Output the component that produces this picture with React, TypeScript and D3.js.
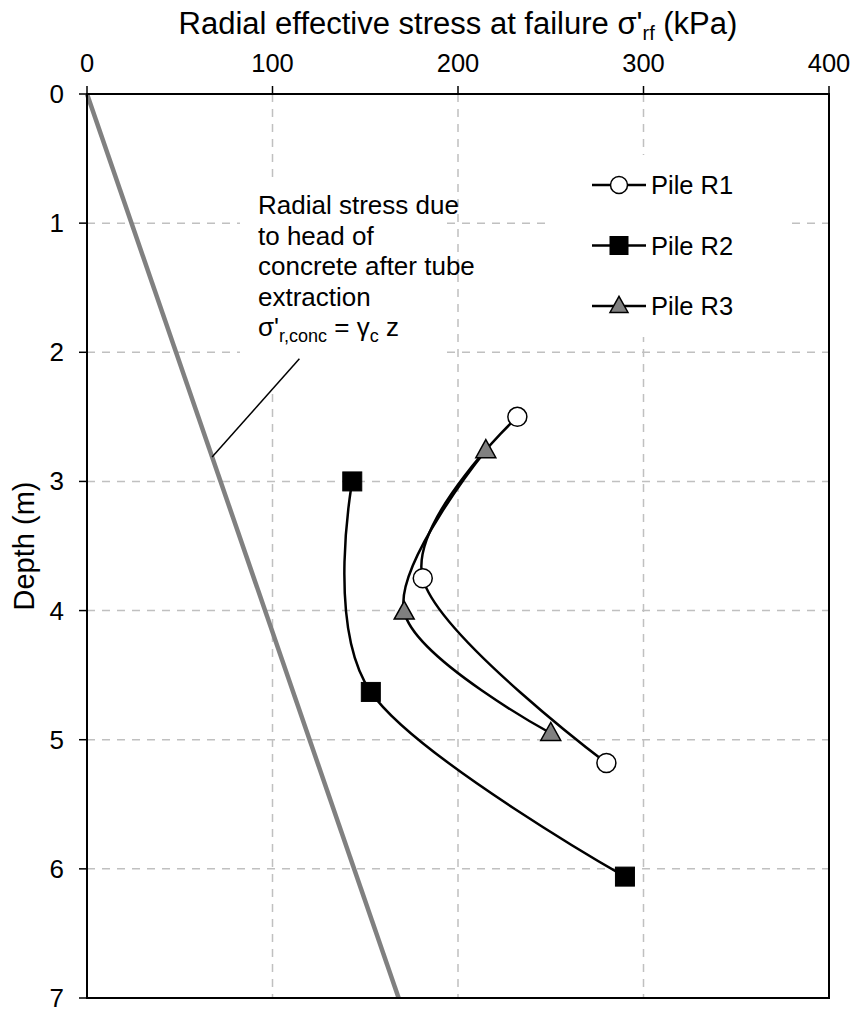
import React from "react";
import * as d3 from "d3";

// Radial effective stress at failure (kPa) versus depth (m) for three piles
const r1Stress = [232, 181, 280];
const r1Depth = [2.5, 3.75, 5.18];
const r2Stress = [143, 153, 290];
const r2Depth = [3.0, 4.63, 6.06];
const r3Stress = [215, 171, 250];
const r3Depth = [2.76, 4.01, 4.95];

// Concrete head line: sigma'_r,conc = gamma_c * z
const gammaC = 24;
const concDepth = [0, 7];

const xTicks = [0, 100, 200, 300, 400];
const yTicks = [0, 1, 2, 3, 4, 5, 6, 7];
const seriesNames = ["Pile R1", "Pile R2", "Pile R3"];

const W = 853;
const H = 1012;
const plot = { left: 87, right: 829, top: 94, bottom: 998 };
const FONT = "Liberation Sans, Arial, sans-serif";

type Pt = { s: number; d: number };
const zip = (s: number[], d: number[]): Pt[] => s.map((v, i) => ({ s: v, d: d[i] }));

function Marker({ kind, x, y, size }: { kind: number; x: number; y: number; size: number }) {
  if (kind === 0) {
    return <circle cx={x} cy={y} r={size / 2} fill="#fff" stroke="#000" strokeWidth={1.5} />;
  }
  if (kind === 1) {
    return <rect x={x - size / 2} y={y - size / 2} width={size} height={size} fill="#000" stroke="#000" strokeWidth={1} />;
  }
  const h = size * 0.9;
  const path = `M${x},${y - h * 0.6} L${x + size / 2},${y + h * 0.4} L${x - size / 2},${y + h * 0.4} Z`;
  return <path d={path} fill="#808080" stroke="#000" strokeWidth={1.5} />;
}

export default function App() {
  const x = d3.scaleLinear().domain([0, 400]).range([plot.left, plot.right]);
  const y = d3.scaleLinear().domain([0, 7]).range([plot.top, plot.bottom]);

  const series = [zip(r1Stress, r1Depth), zip(r2Stress, r2Depth), zip(r3Stress, r3Depth)];
  const line = d3
    .line<Pt>()
    .x((p) => x(p.s))
    .y((p) => y(p.d))
    .curve(d3.curveCatmullRom.alpha(0));

  const concLine = d3
    .line<number>()
    .x((z) => x(gammaC * z))
    .y((z) => y(z));

  const gridX = xTicks.filter((t) => t > 0 && t < 400);
  const gridY = yTicks.filter((t) => t > 0 && t < 7);

  // leader from the annotation to the concrete line
  const leadStart = { s: 114.5, d: 2.05 };
  const leadEndDepth = 2.81;

  const annX = 258;
  const annY0 = 214;
  const annDy = 30.6;
  const annLines = ["Radial stress due", "to head of", "concrete after tube", "extraction"];

  const legendX = 592;
  const legendY0 = 185;
  const legendDy = 60.5;

  return (
    <svg
      width={W}
      height={H}
      style={{ position: "absolute", left: 0, top: 0, background: "#fff" }}
      fontFamily={FONT}
    >
      <rect x={0} y={0} width={W} height={H} fill="#fff" />

      {/* grid */}
      {gridX.map((t) => (
        <line key={"gx" + t} x1={x(t)} x2={x(t)} y1={plot.top} y2={plot.bottom} stroke="#c0c0c0" strokeWidth={1.5} strokeDasharray="8 7" />
      ))}
      {gridY.map((t) => (
        <line key={"gy" + t} x1={plot.left} x2={plot.right} y1={y(t)} y2={y(t)} stroke="#c0c0c0" strokeWidth={1.5} strokeDasharray="8 7" />
      ))}

      {/* annotation background */}
      <rect x={240} y={178} width={205} height={210} fill="#fff" />
      {/* legend background */}
      <rect x={545} y={155} width={242} height={182} fill="#fff" />

      {/* concrete head line */}
      <path d={concLine(concDepth) || ""} fill="none" stroke="#808080" strokeWidth={4.5} />

      {/* leader */}
      <line
        x1={x(leadStart.s)}
        y1={y(leadStart.d)}
        x2={x(gammaC * leadEndDepth)}
        y2={y(leadEndDepth)}
        stroke="#000"
        strokeWidth={1.5}
      />

      {/* annotation text */}
      <g fontSize={26} fill="#000">
        {annLines.map((t, i) => (
          <text key={t} x={annX} y={annY0 + i * annDy}>
            {t}
          </text>
        ))}
        <text x={annX} y={annY0 + 4 * annDy}>
          σ'
          <tspan fontSize={18} dy={6}>r,conc</tspan>
          <tspan dy={-6}> = γ</tspan>
          <tspan fontSize={18} dy={6}>c</tspan>
          <tspan dy={-6}> z</tspan>
        </text>
      </g>

      {/* series */}
      {series.map((pts, k) => (
        <g key={"s" + k}>
          <path d={line(pts) || ""} fill="none" stroke="#000" strokeWidth={2.5} />
          {pts.map((p, i) => (
            <Marker key={i} kind={k} x={x(p.s)} y={y(p.d)} size={k === 2 ? 20 : 19} />
          ))}
        </g>
      ))}

      {/* legend */}
      {seriesNames.map((name, k) => {
        const ly = legendY0 + k * legendDy;
        return (
          <g key={name}>
            <line x1={legendX} x2={legendX + 54} y1={ly} y2={ly} stroke="#000" strokeWidth={2.5} />
            <Marker kind={k} x={legendX + 27} y={ly} size={k === 0 ? 17 : 18} />
            <text x={legendX + 59} y={ly + 9} fontSize={25.5}>
              {name}
            </text>
          </g>
        );
      })}

      {/* frame */}
      <rect
        x={plot.left}
        y={plot.top}
        width={plot.right - plot.left}
        height={plot.bottom - plot.top}
        fill="none"
        stroke="#000"
        strokeWidth={2}
      />

      {/* x axis (top) */}
      {xTicks.map((t) => (
        <g key={"xt" + t}>
          <line x1={x(t)} x2={x(t)} y1={plot.top - 8} y2={plot.top} stroke="#000" strokeWidth={1.5} />
          <text x={x(t)} y={72} fontSize={25.5} textAnchor="middle">
            {t}
          </text>
        </g>
      ))}
      <text x={(plot.left + plot.right) / 2} y={34} fontSize={31} textAnchor="middle">
        Radial effective stress at failure σ'
        <tspan fontSize={20} dy={6}>rf</tspan>
        <tspan dy={-6}> (kPa)</tspan>
      </text>

      {/* y axis (left) */}
      {yTicks.map((t) => (
        <g key={"yt" + t}>
          <line x1={plot.left - 8} x2={plot.left} y1={y(t)} y2={y(t)} stroke="#000" strokeWidth={1.5} />
          <text x={plot.left - 23} y={y(t) + 9} fontSize={26} textAnchor="end">
            {t}
          </text>
        </g>
      ))}
      <text
        transform={`translate(34, ${(plot.top + plot.bottom) / 2}) rotate(-90)`}
        fontSize={29}
        textAnchor="middle"
      >
        Depth (m)
      </text>
    </svg>
  );
}
